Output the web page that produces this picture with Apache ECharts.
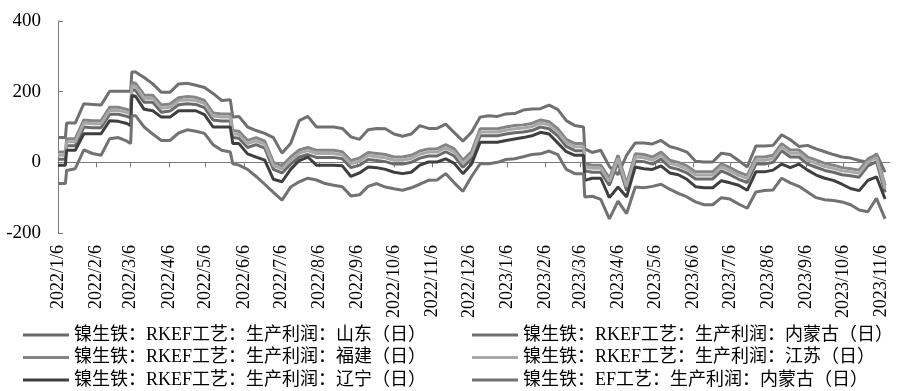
<!DOCTYPE html>
<html>
<head>
<meta charset="utf-8">
<script src="https://cdn.jsdelivr.net/npm/echarts@6/dist/echarts.min.js"></script>
<style>
html,body{margin:0;padding:0;background:#fff;}
#chart{width:900px;height:391px;}
</style>
</head>
<body>
<div id="chart"></div>
<script>
// ---- data ----
const dates = [
 '2022-01-06','2022-01-12','2022-01-13','2022-01-20','2022-01-27','2022-02-03','2022-02-10','2022-02-17','2022-02-24','2022-03-03',
 '2022-03-06','2022-03-07','2022-03-10','2022-03-17','2022-03-24','2022-03-31','2022-04-07','2022-04-14','2022-04-21','2022-04-28',
 '2022-05-05','2022-05-12','2022-05-19','2022-05-26','2022-05-28','2022-06-02','2022-06-09','2022-06-16','2022-06-23','2022-06-30',
 '2022-07-07','2022-07-14','2022-07-21','2022-07-28','2022-08-04','2022-08-11','2022-08-18','2022-08-25','2022-09-01','2022-09-08',
 '2022-09-15','2022-09-22','2022-09-29','2022-10-06','2022-10-13','2022-10-20','2022-10-27','2022-11-03','2022-11-10','2022-11-17',
 '2022-11-24','2022-12-01','2022-12-08','2022-12-15','2022-12-22','2022-12-29','2023-01-05','2023-01-12','2023-01-19','2023-01-26',
 '2023-02-02','2023-02-09','2023-02-16','2023-02-23','2023-03-02','2023-03-09','2023-03-10','2023-03-16','2023-03-23','2023-03-30',
 '2023-04-06','2023-04-13','2023-04-20','2023-04-27','2023-05-04','2023-05-11','2023-05-18','2023-05-25','2023-06-01','2023-06-08',
 '2023-06-15','2023-06-22','2023-06-29','2023-07-06','2023-07-13','2023-07-20','2023-07-27','2023-08-03','2023-08-10','2023-08-17',
 '2023-08-24','2023-08-31','2023-09-07','2023-09-14','2023-09-21','2023-09-28','2023-10-05','2023-10-12','2023-10-19','2023-10-26',
 '2023-11-02','2023-11-09'
];

const shandong = [
 9,9,47,47,100,98,98,136,136,130,
 126,206,204,170,170,142,145,163,166,164,
 155,120,117,117,70,68,42,50,40,-20,
 -30,-5,15,22,14,14,14,10,-15,-8,
 8,5,2,-5,-5,0,12,18,18,30,
 18,-14,10,75,75,75,80,84,86,90,
 100,95,75,45,33,33,-24,-28,-28,-65,
 0,-80,4,2,-5,9,-14,-20,-30,-47,
 -47,-47,-24,-35,-48,-57,-5,-5,0,33,
 15,15,-5,-14,-23,-28,-35,-38,-42,-10,
 2,-85
];
const neimenggu = [
 70,70,111,111,166,164,162,201,201,201,
 201,256,256,240,222,198,198,222,224,218,
 212,195,175,177,128,130,100,90,82,70,
 26,53,118,130,100,100,100,96,72,65,
 92,96,95,80,74,80,104,96,96,108,
 84,60,85,128,132,130,137,138,148,151,
 152,162,150,118,104,100,38,28,34,-12,
 -35,20,55,55,52,62,45,38,29,3,
 1,1,26,22,5,-13,46,46,48,78,
 64,45,48,38,30,22,15,12,5,0,
 24,-28
];
const fujian = [
 29,29,67,67,120,118,118,156,156,150,
 146,226,224,190,190,162,165,183,186,184,
 175,140,137,137,90,88,62,70,60,0,
 -10,15,35,42,34,34,34,30,5,12,
 28,25,22,15,15,20,32,38,38,50,
 38,6,30,95,95,95,100,104,106,110,
 120,115,95,65,53,53,-4,-8,-8,-45,
 20,-60,24,22,15,29,6,0,-10,-27,
 -27,-27,-4,-15,-28,-37,15,15,20,53,
 35,35,15,6,-3,-8,-15,-18,-22,10,
 22,-65
];
const jiangsu = [
 20,20,58,58,111,109,109,147,147,141,
 137,217,215,181,181,153,156,174,177,175,
 166,131,128,128,81,79,53,61,51,-9,
 -19,6,26,33,25,25,25,21,-4,3,
 19,16,13,6,6,11,23,29,29,41,
 29,-3,21,86,86,86,91,95,97,101,
 111,106,86,56,44,44,-13,-17,-17,-54,
 11,-69,15,13,6,20,-3,-9,-19,-36,
 -36,-36,-13,-24,-37,-46,6,6,11,44,
 26,26,6,-3,-12,-17,-24,-27,-31,1,
 13,-74
];
const liaoning = [
 -8,-8,34,34,81,81,81,118,116,110,
 104,189,187,150,146,128,128,146,146,146,
 135,100,100,100,53,53,24,15,6,-48,
 -55,-20,5,15,-8,-8,-8,-10,-40,-30,
 -13,-15,-20,-28,-32,-28,-8,1,1,10,
 -3,-32,-5,57,57,57,62,66,70,75,
 85,80,55,30,20,20,-51,-45,-45,-100,
 -70,-98,-13,-18,-20,-10,-30,-35,-48,-69,
 -72,-72,-52,-58,-65,-79,-27,-27,-22,-5,
 -15,-5,-22,-36,-45,-51,-62,-74,-80,-51,
 -41,-104
];
const efNeimenggu = [
 -60,-60,-23,-18,35,25,20,67,70,60,
 53,132,132,100,80,62,62,83,92,88,
 82,50,34,29,-4,-8,-20,-40,-62,-85,
 -107,-70,-55,-45,-50,-60,-65,-69,-95,-92,
 -68,-60,-70,-75,-79,-72,-62,-51,-50,-32,
 -58,-82,-40,-4,-4,0,8,10,16,22,
 24,32,22,-20,-32,-32,-98,-96,-105,-160,
 -110,-145,-70,-72,-68,-62,-76,-88,-98,-112,
 -120,-120,-100,-104,-118,-130,-84,-80,-78,-45,
 -58,-68,-84,-100,-106,-108,-112,-120,-135,-140,
 -102,-160
];

const seriesNames = [
 '镍生铁：RKEF工艺：生产利润：山东（日）',
 '镍生铁：RKEF工艺：生产利润：内蒙古（日）',
 '镍生铁：RKEF工艺：生产利润：福建（日）',
 '镍生铁：RKEF工艺：生产利润：江苏（日）',
 '镍生铁：RKEF工艺：生产利润：辽宁（日）',
 '镍生铁：EF工艺：生产利润：内蒙古（日）'
];
const seriesValues = [shandong, neimenggu, fujian, jiangsu, liaoning, efNeimenggu];
const seriesColors = ['#6a6a6a', '#707070', '#858585', '#a8a8a8', '#3f3f3f', '#727272'];

const xTickLabels = [
 '2022/1/6','2022/2/6','2022/3/6','2022/4/6','2022/5/6','2022/6/6','2022/7/6','2022/8/6','2022/9/6','2022/10/6','2022/11/6','2022/12/6',
 '2023/1/6','2023/2/6','2023/3/6','2023/4/6','2023/5/6','2023/6/6','2023/7/6','2023/8/6','2023/9/6','2023/10/6','2023/11/6'
];
const xStart = '2022/1/6';
const xEnd = '2023/11/13';
const yMin = -200, yMax = 400, yInterval = 200;

// ---- build: x axis is "days since start" ----
function dayNo(s) {
  const p = s.split(/[\/-]/).map(Number);
  const q = xStart.split('/').map(Number);
  return Math.round((Date.UTC(p[0], p[1] - 1, p[2]) - Date.UTC(q[0], q[1] - 1, q[2])) / 86400000);
}
const tickDays = xTickLabels.map(dayNo);
const labelByDay = {};
tickDays.forEach((d, i) => { labelByDay[d] = xTickLabels[i]; });

const chart = echarts.init(document.getElementById('chart'), null, {renderer: 'canvas'});
const serif = '"Liberation Serif","Times New Roman",serif';
const legendFont = '"Liberation Serif","Noto Sans CJK SC",serif';

const series = seriesNames.map((name, i) => ({
  name: name,
  type: 'line',
  xAxisIndex: 0,
  yAxisIndex: 0,
  data: dates.map((d, j) => [dayNo(d), seriesValues[i][j]]),
  showSymbol: false,
  symbol: 'none',
  smooth: false,
  lineStyle: {width: 3, color: seriesColors[i]},
  itemStyle: {color: seriesColors[i]},
  animation: false
}));

const legendCommon = {
  orient: 'vertical',
  icon: 'rect',
  itemWidth: 46,
  itemHeight: 3,
  itemGap: 2.5,
  padding: 0,
  height: 80,
  textStyle: {fontFamily: legendFont, fontSize: 18, color: '#000', lineHeight: 20},
  selectedMode: false
};

chart.setOption({
  backgroundColor: '#fff',
  animation: false,
  grid: {left: 58, right: 10, top: 21, bottom: 158, containLabel: false},
  legend: [
    Object.assign({left: 23, top: 325, data: [seriesNames[0], seriesNames[2], seriesNames[4]]}, legendCommon),
    Object.assign({left: 472, top: 325, data: [seriesNames[1], seriesNames[3], seriesNames[5]]}, legendCommon)
  ],
  xAxis: [
    {
      type: 'value',
      position: 'bottom',
      min: 0,
      max: dayNo(xEnd),
      axisLine: {show: false, onZero: false},
      axisTick: {show: false},
      splitLine: {show: false},
      axisLabel: {
        customValues: tickDays,
        formatter: (v) => labelByDay[v] || '',
        rotate: 90,
        margin: 12,
        fontFamily: serif,
        fontSize: 18,
        color: '#000',
        hideOverlap: false
      }
    },
    {
      type: 'value',
      position: 'top',
      min: 0,
      max: dayNo(xEnd),
      axisLine: {show: true, onZero: true, lineStyle: {color: '#7a7a7a', width: 1}},
      axisTick: {show: true, inside: true, length: 5, customValues: tickDays, lineStyle: {color: '#7a7a7a'}},
      axisLabel: {show: false},
      splitLine: {show: false}
    }
  ],
  yAxis: {
    type: 'value',
    min: yMin,
    max: yMax,
    interval: yInterval,
    axisLine: {show: true, lineStyle: {color: '#7a7a7a', width: 1}},
    axisTick: {show: true, inside: true, length: 5, lineStyle: {color: '#7a7a7a'}},
    splitLine: {show: false},
    axisLabel: {fontFamily: serif, fontSize: 19, color: '#000', margin: 17}
  },
  series: series
});
</script>
</body>
</html>
